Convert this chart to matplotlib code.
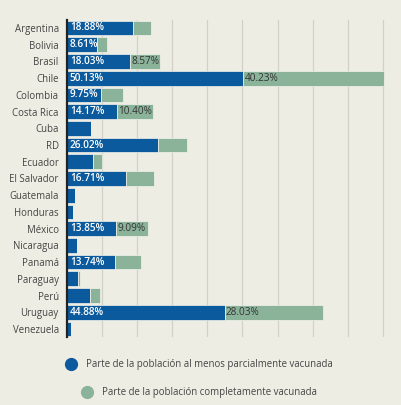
import matplotlib
matplotlib.use("Agg")
import matplotlib.pyplot as plt
from matplotlib.lines import Line2D

countries = ["Argentina", "Bolivia", "Brasil", "Chile", "Colombia", "Costa Rica", "Cuba",
             "RD", "Ecuador", "El Salvador", "Guatemala", "Honduras", "México", "Nicaragua",
             "Panamá", "Paraguay", "Perú", "Uruguay", "Venezuela"]
partial = [18.88, 8.61, 18.03, 50.13, 9.75, 14.17, 6.7, 26.02, 7.5, 16.71, 2.3, 1.7,
           13.85, 2.8, 13.74, 3.1, 6.6, 44.88, 1.1]
complete = [5.0, 2.7, 8.57, 40.23, 6.2, 10.40, 0.0, 8.1, 2.5, 8.1, 0.0, 0.0,
            9.09, 0.0, 7.4, 0.5, 2.7, 28.03, 0.0]
partial_labels = ["18.88%", "8.61%", "18.03%", "50.13%", "9.75%", "14.17%", "", "26.02%", "",
                  "16.71%", "", "", "13.85%", "", "13.74%", "", "", "44.88%", ""]
complete_labels = ["", "", "8.57%", "40.23%", "", "10.40%", "", "", "", "", "", "",
                   "9.09%", "", "", "", "", "28.03%", ""]
legend_labels = ["Parte de la población al menos parcialmente vacunada",
                 "Parte de la población completamente vacunada"]

BG = "#EEEDE3"
BLUE = "#0A5A9D"
GREEN = "#8BB39A"
plt.rcParams['font.family'] = ['Open Sans', 'DejaVu Sans']

fig = plt.figure(figsize=(4.01, 4.05), dpi=100, facecolor=BG)
ax = fig.add_axes([67/401, 1-337.4/405, (386.4-67)/401, (337.4-19.6)/405])
ax.set_facecolor(BG)
y = list(range(len(countries)))
ax.barh(y, partial, height=0.88, color=BLUE, edgecolor="#F4F3EC", linewidth=0.5, zorder=3)
ax.barh(y, complete, left=partial, height=0.88, color=GREEN, edgecolor="#F4F3EC", linewidth=0.5, zorder=3)
for i in y:
    if partial_labels[i]:
        ax.text(0.8, i, partial_labels[i], va="center", ha="left", color="white",
                fontsize=7.2, fontweight="semibold", zorder=4)
    if complete_labels[i]:
        ax.text(partial[i] + 0.4, i, complete_labels[i], va="center", ha="left", color="#333333",
                fontsize=7.2, zorder=4)
ax.set_ylim(len(countries) - 0.5, -0.5)
ax.set_xlim(0, 91)
ax.set_yticks(y)
ax.set_yticklabels(countries, fontsize=6.9, color="#444444")
ax.set_xticks(range(10, 91, 10))
ax.tick_params(axis="x", length=0, labelbottom=False)
ax.tick_params(axis="y", length=0, pad=6)
ax.grid(axis="x", color="#D2D1C6", linewidth=0.9, zorder=0)
for s in ["top", "right", "bottom"]:
    ax.spines[s].set_visible(False)
ax.spines["left"].set_color("#222222")
ax.spines["left"].set_linewidth(1.6)
ax.spines["left"].set_zorder(5)

fig.add_artist(Line2D([71/401], [1-364/405], marker="o", markersize=8.5, color=BLUE,
                      linestyle="none", transform=fig.transFigure))
fig.text(86/401, 1-364/405, legend_labels[0], va="center", ha="left", fontsize=6.9, color="#444444")
fig.add_artist(Line2D([87/401], [1-392/405], marker="o", markersize=8.5, color=GREEN,
                      linestyle="none", transform=fig.transFigure))
fig.text(102/401, 1-392/405, legend_labels[1], va="center", ha="left", fontsize=6.9, color="#444444")

fig.savefig("out.png", dpi=100, facecolor=BG)
